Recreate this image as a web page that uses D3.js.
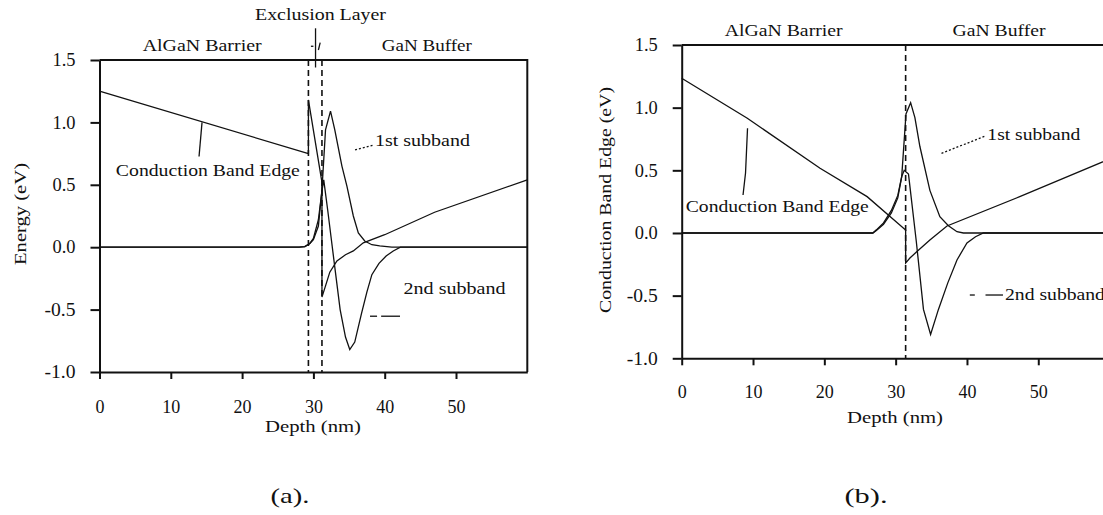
<!DOCTYPE html>
<html>
<head>
<meta charset="utf-8">
<script src="https://cdn.jsdelivr.net/npm/d3@7"></script>
<style>
body { margin: 0; background: #fff; }
svg text { font-family: "Liberation Serif", Tinos, "Times New Roman", Times, serif; fill: #111; }
.axis path, .axis line { stroke: #111; stroke-width: 2; }
</style>
</head>
<body>
<svg id="chart" width="1103" height="515"></svg>
<script>
// ticks
const depthTicks = [0, 10, 20, 30, 40, 50];
const energyTicks = [1.5, 1.0, 0.5, 0.0, -0.5, -1.0];

// (a) with exclusion layer -- conduction band edge
const aCbeDepth  = [0, 29.3, 29.3, 31.2, 31.2, 31.7, 32.3, 33.3, 34.5, 35.6, 37.0, 40, 47, 60];
const aCbeEnergy = [1.25, 0.75, 1.18, 0.52, -0.40, -0.31, -0.20, -0.11, -0.06, -0.03, 0.035, 0.10, 0.28, 0.54];
// (a) 1st subband wavefunction
const aSub1Depth  = [0, 28.0, 28.8, 29.5, 30.0, 30.7, 31.2, 31.7, 32.4, 33.0, 34.0, 34.7, 35.6, 36.3, 37.2, 38.2, 39.3, 41, 60];
const aSub1Energy = [0, 0, 0.005, 0.03, 0.06, 0.17, 0.46, 0.94, 1.09, 0.94, 0.65, 0.49, 0.25, 0.115, 0.05, 0.02, 0.01, 0, 0];
// (a) 2nd subband wavefunction
const aSub2Depth  = [0, 28.0, 28.8, 29.5, 30.0, 30.7, 31.2, 31.45, 32.0, 32.5, 33.0, 33.75, 34.5, 35.1, 35.8, 36.75, 37.5, 38.2, 39.2, 40.2, 41.2, 42.2, 60];
const aSub2Energy = [0, 0, 0.005, 0.03, 0.07, 0.22, 0.45, 0.54, 0.30, 0.07, -0.16, -0.50, -0.72, -0.82, -0.76, -0.53, -0.36, -0.22, -0.13, -0.07, -0.03, 0, 0];
const aDashes = [29.3, 31.2];

// (b) no exclusion layer -- conduction band edge
const bCbeDepth  = [0, 9.2, 19.4, 26.0, 31.4, 31.4, 32.0, 32.95, 34.8, 37.2, 47.4, 60];
const bCbeEnergy = [1.235, 0.915, 0.516, 0.29, 0.024, -0.24, -0.20, -0.15, -0.056, 0.056, 0.29, 0.59];
// (b) 1st subband
const bSub1Depth  = [0, 26.8, 27.3, 28.3, 29.4, 30.3, 30.85, 31.45, 32.1, 32.7, 33.4, 34.8, 36.2, 37.4, 38.6, 39.5, 60];
const bSub1Energy = [0, 0, 0.02, 0.07, 0.16, 0.28, 0.45, 0.95, 1.04, 0.92, 0.69, 0.34, 0.13, 0.058, 0.01, 0, 0];
// (b) 2nd subband
const bSub2Depth  = [0, 26.8, 27.3, 28.3, 29.4, 30.3, 30.85, 31.2, 31.8, 32.9, 33.9, 34.9, 36.0, 37.3, 38.6, 40.0, 41.2, 42.3, 60];
const bSub2Energy = [0, 0, 0.025, 0.08, 0.18, 0.30, 0.45, 0.50, 0.47, -0.07, -0.61, -0.81, -0.61, -0.40, -0.215, -0.08, -0.03, 0, 0];
const bDashes = [31.4];

const FONT = "Liberation Serif, Tinos, Times New Roman, serif";
const svg = d3.select("#chart");

function drawPanel(p) {
    var x = d3.scaleLinear().domain([0, 60]).range([p.left, p.left + p.width]);
    var y = d3.scaleLinear().domain([-1, 1.5]).range([p.bottom, p.top]);

    // top + right border
    svg.append("path")
        .attr("d", "M" + x(0) + "," + y(1.5) + "H" + x(60) + "V" + y(-1))
        .attr("fill", "none").attr("stroke", "#111").attr("stroke-width", 2);

    // y axis
    var ya = svg.append("g").attr("class", "axis")
        .attr("transform", "translate(" + x(0) + ",0)")
        .call(d3.axisLeft(y).tickValues(energyTicks).tickFormat(d => d.toFixed(1))
            .tickSize(9).tickSizeOuter(0).tickPadding(15));
    ya.attr("font-family", FONT).attr("font-size", 18);
    ya.selectAll("text").attr("textLength", d => d < 0 ? 31 : 23).attr("lengthAdjust", "spacingAndGlyphs");

    // x axis
    var xa = svg.append("g").attr("class", "axis")
        .attr("transform", "translate(0," + y(-1) + ")")
        .call(d3.axisBottom(x).tickValues(depthTicks).tickFormat(d3.format("d"))
            .tickSize(7).tickSizeOuter(0).tickPadding(p.xPad));
    xa.attr("font-family", FONT).attr("font-size", 18);

    // dashed interface lines
    svg.append("g").selectAll("line").data(p.dashes).enter().append("line")
        .attr("x1", d => x(d)).attr("x2", d => x(d))
        .attr("y1", y(1.5)).attr("y2", y(-1))
        .attr("stroke", "#111").attr("stroke-width", 1.6)
        .attr("stroke-dasharray", "6,4");

    // curves
    var line = d3.line().x(d => x(d[0])).y(d => y(d[1]));
    p.curves.forEach(function(c) {
        svg.append("path")
            .datum(d3.zip(c[0], c[1]))
            .attr("d", line)
            .attr("fill", "none").attr("stroke", "#111").attr("stroke-width", 1.3);
    });

    // labels
    p.labels.forEach(function(l) {
        var t = svg.append("text")
            .attr("x", x(l.x)).attr("y", y(l.y))
            .attr("font-family", FONT)
            .attr("font-size", l.size || 17)
            .attr("text-anchor", l.anchor || "start")
            .text(l.text);
        if (l.len) t.attr("textLength", l.len).attr("lengthAdjust", "spacingAndGlyphs");
    });

    // leader lines
    p.leaders.forEach(function(l) {
        svg.append("path")
            .datum(l.pts)
            .attr("d", line)
            .attr("fill", "none").attr("stroke", "#111")
            .attr("stroke-width", l.w || 1.3)
            .attr("stroke-dasharray", l.dash || null);
    });

    // axis titles
    svg.append("text")
        .attr("x", p.xTitle[0]).attr("y", p.xTitle[1])
        .attr("font-family", FONT)
        .attr("text-anchor", "middle").attr("font-size", 17)
        .attr("textLength", 96).attr("lengthAdjust", "spacingAndGlyphs")
        .text("Depth (nm)");
    svg.append("text")
        .attr("transform", "translate(" + p.yTitle[0] + "," + p.yTitle[1] + ") rotate(-90)")
        .attr("font-family", FONT)
        .attr("text-anchor", "middle").attr("dominant-baseline", "central")
        .attr("font-size", 17)
        .attr("textLength", p.yTitle[3]).attr("lengthAdjust", "spacingAndGlyphs")
        .text(p.yTitle[2]);
    svg.append("text")
        .attr("x", p.caption[0]).attr("y", 503)
        .attr("font-family", FONT)
        .attr("text-anchor", "middle").attr("font-size", 22)
        .attr("textLength", p.caption[2]).attr("lengthAdjust", "spacingAndGlyphs")
        .text(p.caption[1]);
}

drawPanel({
    left: 99.5, width: 427.8, top: 60, bottom: 372, xPad: 21,
    dashes: aDashes,
    curves: [[aCbeDepth, aCbeEnergy], [aSub1Depth, aSub1Energy], [aSub2Depth, aSub2Energy]],
    labels: [
        { text: "Exclusion Layer", x: 31.0, y: 1.818, anchor: "middle", len: 131 },
        { text: "AlGaN Barrier", x: 14.4, y: 1.57, anchor: "middle", len: 119 },
        { text: "GaN Buffer", x: 45.9, y: 1.57, anchor: "middle", len: 90 },
        { text: "Conduction Band Edge", x: 15.2, y: 0.567, anchor: "middle", len: 184 },
        { text: "1st subband", x: 38.64, y: 0.81, len: 95 },
        { text: "2nd subband", x: 42.64, y: -0.371, len: 102 }
    ],
    leaders: [
        { pts: [[30.3, 1.754], [30.3, 1.44]] },
        { pts: [[29.65, 1.61], [30.0, 1.61]] },
        { pts: [[30.7, 1.58], [30.95, 1.64]] },
        { pts: [[14.38, 1.0], [13.96, 0.727]] },
        { pts: [[35.84, 0.78], [38.36, 0.816]], dash: "2,2" },
        { pts: [[37.94, -0.553], [38.93, -0.553]] },
        { pts: [[39.5, -0.553], [42.15, -0.553]] }
    ],
    xTitle: [313, 432],
    yTitle: [20, 214, "Energy (eV)", 102],
    caption: [290, "(a).", 39]
});

drawPanel({
    left: 681.7, width: 427.9, top: 45, bottom: 358.3, xPad: 20,
    dashes: bDashes,
    curves: [[bCbeDepth, bCbeEnergy], [bSub1Depth, bSub1Energy], [bSub2Depth, bSub2Energy]],
    labels: [
        { text: "AlGaN Barrier", x: 14.3, y: 1.572, anchor: "middle", len: 118 },
        { text: "GaN Buffer", x: 44.5, y: 1.572, anchor: "middle", len: 93 },
        { text: "Conduction Band Edge", x: 0.57, y: 0.168, len: 183 },
        { text: "1st subband", x: 42.86, y: 0.742, len: 93 },
        { text: "2nd subband", x: 45.33, y: -0.535, len: 100 }
    ],
    leaders: [
        { pts: [[9.23, 0.836], [8.95, 0.479], [8.6, 0.303]] },
        { pts: [[36.43, 0.636], [42.61, 0.774]], dash: "2,2" },
        { pts: [[40.4, -0.495], [41.1, -0.495]] },
        { pts: [[42.6, -0.495], [45.05, -0.495]] }
    ],
    xTitle: [895, 423],
    yTitle: [605, 200, "Conduction Band Edge (eV)", 226],
    caption: [866, "(b).", 43]
});
</script>
</body>
</html>
